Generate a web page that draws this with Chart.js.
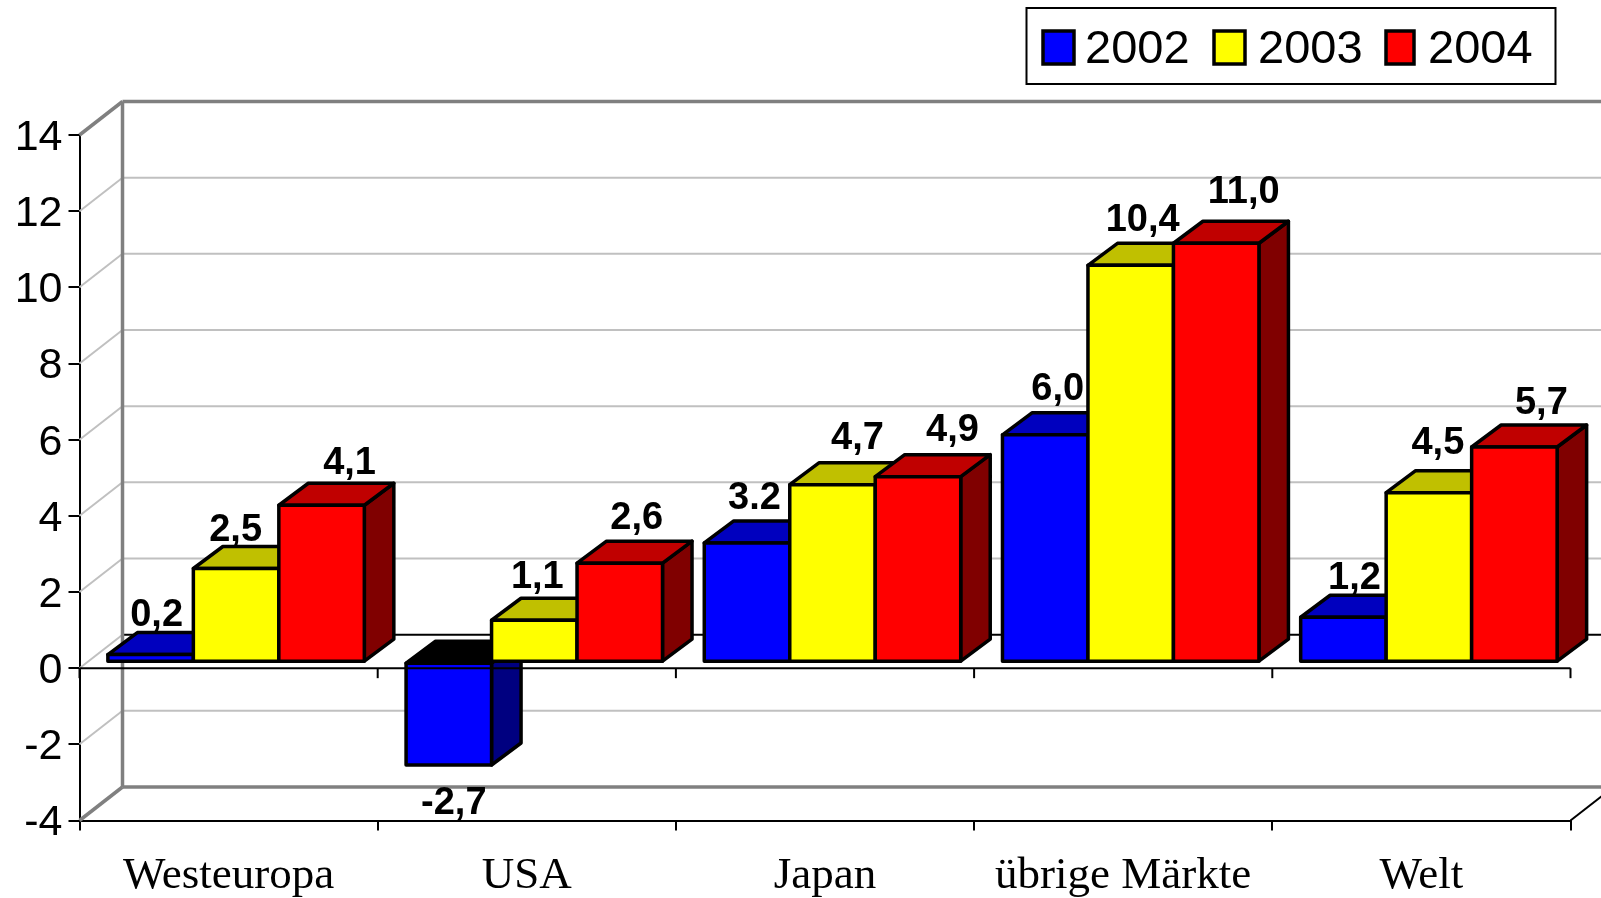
<!DOCTYPE html>
<html>
<head>
<meta charset="utf-8">
<title>Chart</title>
<script src="https://cdn.jsdelivr.net/npm/chart.js@4/dist/chart.umd.min.js"></script>
<style>
    html, body { margin: 0; padding: 0; background: #fff; overflow: hidden; }
    canvas { display: block; }
</style>
</head>
<body>
<canvas id="growthChart" width="1601" height="898"></canvas>
<script>
var categories = ["Westeuropa", "USA", "Japan", "übrige Märkte", "Welt"];
var seriesNames = ["2002", "2003", "2004"];
var values2002 = [0.2, -2.7, 3.13, 5.97, 1.18];
var values2003 = [2.46, 1.1, 4.66, 10.42, 4.45];
var values2004 = [4.12, 2.6, 4.87, 11.0, 5.65];
var labels2002 = ["0,2", "-2,7", "3.2", "6,0", "1,2"];
var labels2003 = ["2,5", "1,1", "4,7", "10,4", "4,5"];
var labels2004 = ["4,1", "2,6", "4,9", "11,0", "5,7"];
var yTicks = [14, 12, 10, 8, 6, 4, 2, 0, -2, -4];

var frontColors = ["#0000ff", "#ffff00", "#ff0000"];
var topColors = ["#0000bf", "#c0c000", "#c00000"];
var sideColors = ["#000080", "#808000", "#800000"];
var pointLabels = [labels2002, labels2003, labels2004];

// the labels were placed by hand in the original, so each one has its own nudge
var labelDx = [[6, 5, 7.5, 12.5, 11], [-0.5, 3, 25, 12, 9], [28, 17, 34.5, 27.5, 27]];
var labelDy = [[-29, 49, -34, -35, -28], [-27, -32, -35.5, -34, -39], [-31, -34, -35.5, -40, -33]];

var wallX = 43, wallY = 33.5;
var depthX = 29.5, depthY = 22;
var barShiftX = 7.5, barShiftY = -6;
var strokeW = 3.5;

function line(ctx, x1, y1, x2, y2, color, width) {
    ctx.strokeStyle = color;
    ctx.lineWidth = width;
    ctx.beginPath();
    ctx.moveTo(x1, y1);
    ctx.lineTo(x2, y2);
    ctx.stroke();
}

function face(ctx, pts, color) {
    ctx.fillStyle = color;
    ctx.strokeStyle = "#000";
    ctx.lineWidth = strokeW;
    ctx.lineJoin = "round";
    ctx.beginPath();
    ctx.moveTo(pts[0][0], pts[0][1]);
    for (var i = 1; i < pts.length; i++) {
        ctx.lineTo(pts[i][0], pts[i][1]);
    }
    ctx.closePath();
    ctx.fill();
    ctx.stroke();
}

function barBox(el) {
    var p = el.getProps(["x", "y", "base", "width"], true);
    return {
        left: p.x - p.width / 2,
        right: p.x + p.width / 2,
        top: Math.min(p.y, p.base),
        bottom: Math.max(p.y, p.base)
    };
}

function drawWalls(chart) {
    var ctx = chart.ctx, a = chart.chartArea, y = chart.scales.y;
    var backX = a.left + wallX;
    yTicks.forEach(function (v) {
        var py = y.getPixelForValue(v);
        if (v === 14 || v === -4) return;
        line(ctx, a.left, py, backX, py - wallY, "#c0c0c0", 2);
        line(ctx, backX, py - wallY, chart.width, py - wallY, v === 0 ? "#000" : "#c0c0c0", 2);
    });
    line(ctx, backX, a.top - wallY, backX, a.bottom - wallY, "#808080", 3.5);
    line(ctx, backX, a.top - wallY, chart.width, a.top - wallY, "#808080", 3.5);
    line(ctx, backX, a.bottom - wallY, chart.width, a.bottom - wallY, "#808080", 3.5);
    line(ctx, a.left, a.top, backX, a.top - wallY, "#808080", 3.5);
    line(ctx, a.left, a.bottom, backX, a.bottom - wallY, "#808080", 3.5);
    line(ctx, a.right, a.bottom, a.right + wallX, a.bottom - wallY, "#000", 2);
}

function drawBars(chart) {
    var ctx = chart.ctx;
    // left series first, so the next series covers its side face
    chart.data.datasets.forEach(function (ds, d) {
        var meta = chart.getDatasetMeta(d);
        meta.data.forEach(function (el, i) {
            var b = barBox(el);
            face(ctx, [[b.right, b.top], [b.right + depthX, b.top - depthY],
                [b.right + depthX, b.bottom - depthY], [b.right, b.bottom]], sideColors[d]);
            // seen from below a negative bar has a black cap
            face(ctx, [[b.left, b.top], [b.left + depthX, b.top - depthY],
                [b.right + depthX, b.top - depthY], [b.right, b.top]],
                ds.data[i] < 0 ? "#000" : topColors[d]);
        });
        meta.controller.draw();
        ctx.strokeStyle = "#000";
        ctx.lineWidth = strokeW;
        meta.data.forEach(function (el) {
            var b = barBox(el);
            ctx.strokeRect(b.left, b.top, b.right - b.left, b.bottom - b.top);
        });
    });
}

function drawZeroLine(chart) {
    var ctx = chart.ctx, a = chart.chartArea;
    var py = chart.scales.y.getPixelForValue(0);
    var step = (a.right - a.left) / categories.length;
    line(ctx, a.left, py, a.right, py, "#000", 2);
    for (var i = 0; i <= categories.length; i++) {
        line(ctx, a.left + i * step, py, a.left + i * step, py + 10, "#000", 2);
    }
}

function drawLabels(chart) {
    var ctx = chart.ctx;
    ctx.font = "bold 38px 'Liberation Sans'";
    ctx.textAlign = "center";
    ctx.textBaseline = "alphabetic";
    ctx.fillStyle = "#000";
    chart.data.datasets.forEach(function (ds, d) {
        chart.getDatasetMeta(d).data.forEach(function (el, i) {
            var b = barBox(el);
            var anchor = ds.data[i] < 0 ? b.bottom : b.top;
            ctx.fillText(pointLabels[d][i], (b.left + b.right) / 2 + labelDx[d][i], anchor + labelDy[d][i]);
        });
    });
}

function drawLegend(chart) {
    var ctx = chart.ctx;
    var swatchX = [1043, 1214, 1386];
    var swatchW = [31, 31, 28];
    var textX = [1085, 1258, 1428];
    ctx.fillStyle = "#fff";
    ctx.fillRect(1026.5, 8, 529, 76);
    ctx.strokeStyle = "#000";
    ctx.lineWidth = 2;
    ctx.strokeRect(1026.5, 8, 529, 76);
    ctx.font = "47px 'Liberation Sans'";
    ctx.textAlign = "left";
    ctx.textBaseline = "alphabetic";
    seriesNames.forEach(function (name, i) {
        ctx.fillStyle = frontColors[i];
        ctx.lineWidth = 3.5;
        ctx.fillRect(swatchX[i], 31, swatchW[i], 33);
        ctx.strokeRect(swatchX[i], 31, swatchW[i], 33);
        ctx.fillStyle = "#000";
        ctx.fillText(name, textX[i], 63);
    });
}

var box3d = {
    id: "box3d",
    beforeDatasetsDraw: function (chart) {
        var ctx = chart.ctx;
        drawWalls(chart);
        ctx.save();
        ctx.translate(barShiftX, barShiftY);
        drawBars(chart);
        ctx.restore();
        drawZeroLine(chart);
        ctx.save();
        ctx.translate(barShiftX, barShiftY);
        drawLabels(chart);
        ctx.restore();
        drawLegend(chart);
        return false;
    }
};

new Chart(document.getElementById("growthChart").getContext("2d"), {
    type: "bar",
    data: {
        labels: categories,
        datasets: [
            { label: seriesNames[0], data: values2002, backgroundColor: frontColors[0] },
            { label: seriesNames[1], data: values2003, backgroundColor: frontColors[1] },
            { label: seriesNames[2], data: values2004, backgroundColor: frontColors[2] }
        ]
    },
    plugins: [box3d],
    options: {
        responsive: false,
        animation: false,
        devicePixelRatio: 1,
        layout: { padding: { top: 135, right: 30.5, left: 0, bottom: 0 } },
        datasets: { bar: { categoryPercentage: 0.86, barPercentage: 1, borderWidth: 0 } },
        plugins: { legend: { display: false }, tooltip: { enabled: false } },
        scales: {
            x: {
                grid: { offset: true, drawOnChartArea: false, color: "#000", lineWidth: 2, tickLength: 10 },
                border: { color: "#000", width: 2 },
                ticks: {
                    color: "#000",
                    padding: 19,
                    maxRotation: 0,
                    autoSkip: false,
                    font: { family: "'Liberation Serif'", size: 45 }
                },
                afterFit: function (scale) { scale.height = 77.5; }
            },
            y: {
                min: -4,
                max: 14,
                grid: { drawOnChartArea: false, color: "#000", lineWidth: 2, tickLength: 11 },
                border: { color: "#000", width: 2 },
                ticks: {
                    stepSize: 2,
                    color: "#000",
                    padding: 6,
                    labelOffset: 3,
                    font: { family: "'Liberation Sans'", size: 43 }
                },
                afterFit: function (scale) { scale.width = 79.5; }
            }
        }
    }
});
</script>
</body>
</html>
